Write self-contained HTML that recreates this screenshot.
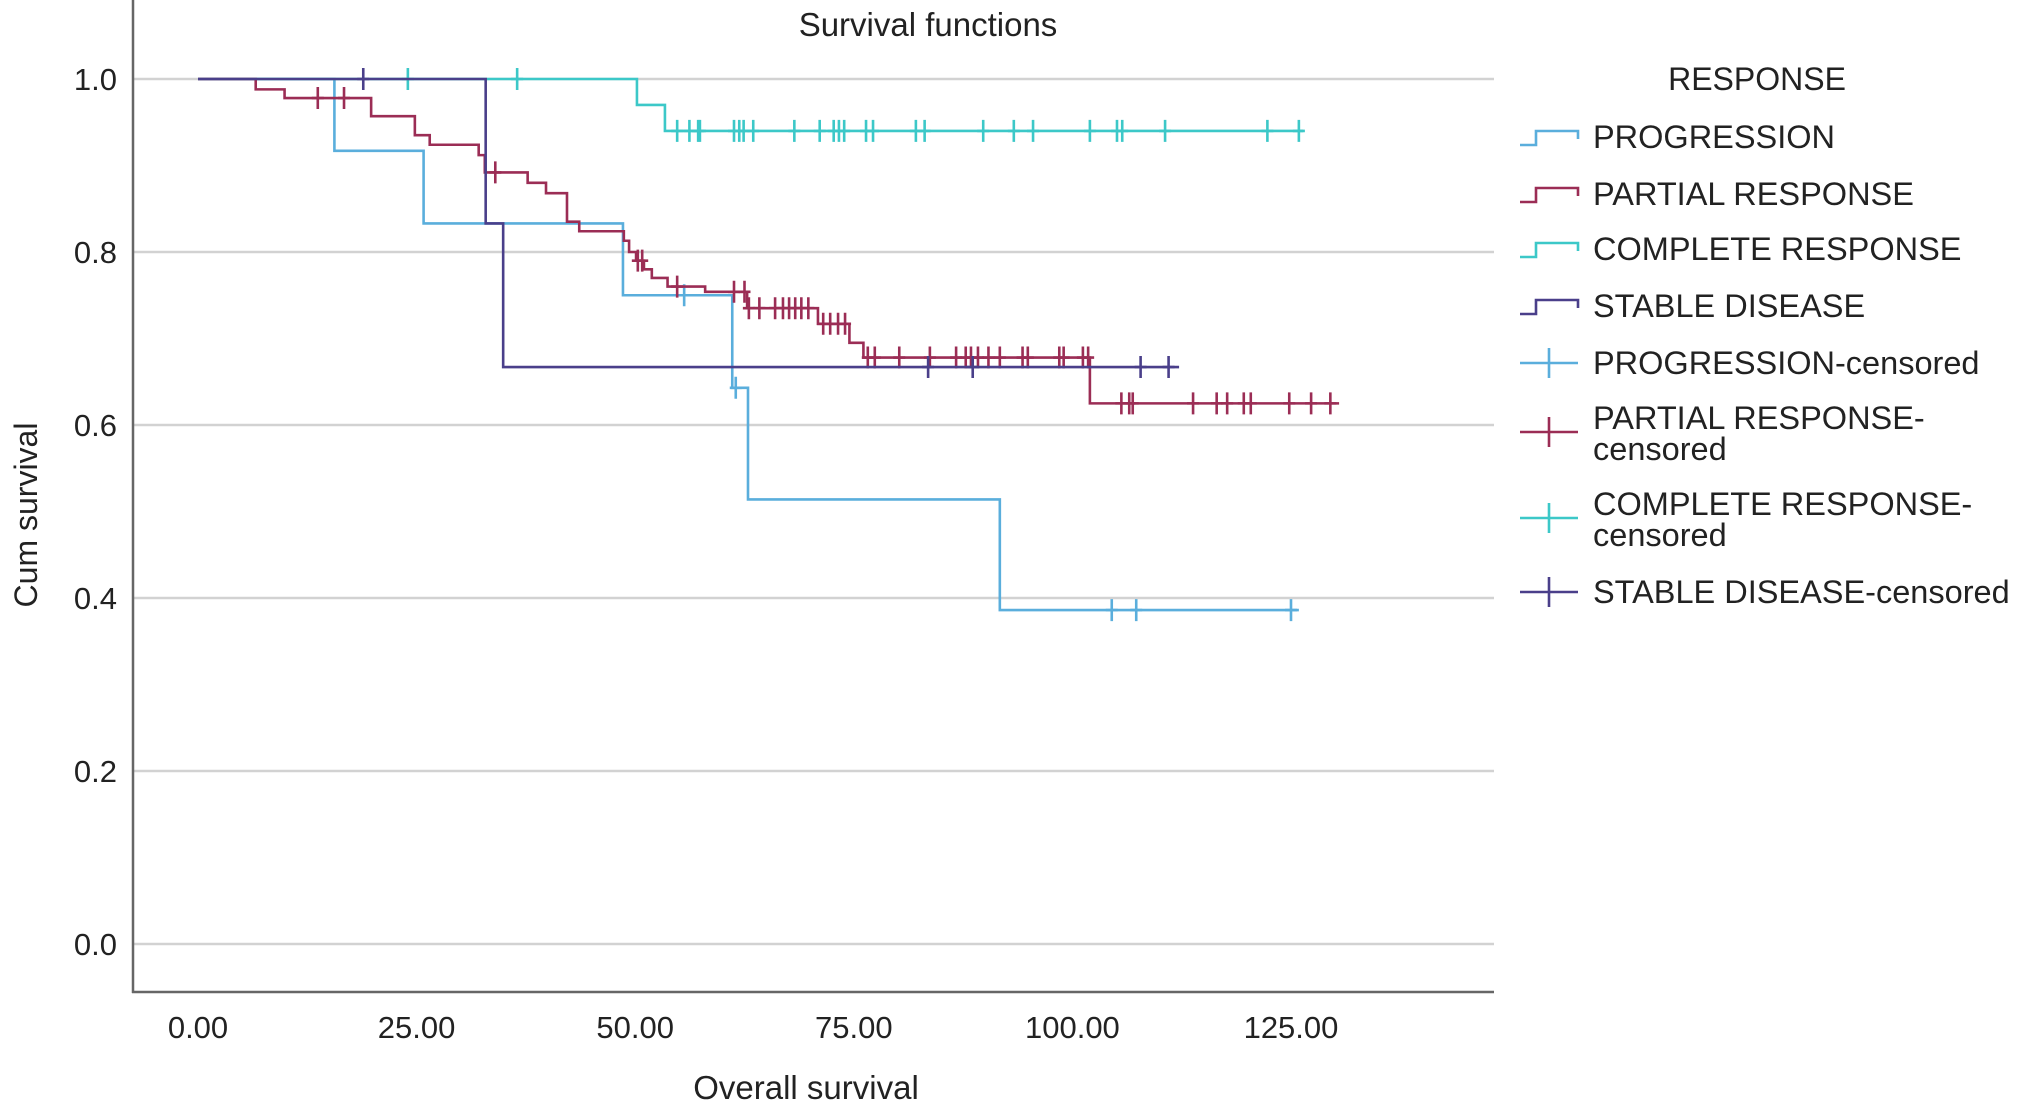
<!DOCTYPE html>
<html><head><meta charset="utf-8"><style>
body{margin:0;background:#fff;}
svg{display:block;font-family:"Liberation Sans",sans-serif;}
</style></head><body>
<svg id="chart" width="2032" height="1113" viewBox="0 0 2032 1113" xmlns="http://www.w3.org/2000/svg">
<rect width="2032" height="1113" fill="#fff"/>
<text x="928" y="36" font-size="33" text-anchor="middle" fill="#222">Survival functions</text>
<text transform="translate(37,515) rotate(-90)" font-size="32" text-anchor="middle" fill="#222">Cum survival</text>
<text x="806" y="1099" font-size="33" text-anchor="middle" fill="#222">Overall survival</text>
<g id="grid"></g><g id="series"></g><g id="axes"></g><g id="legend"></g>
</svg>
<script>
const xTicks=[0,25,50,75,100,125];
const xTickLabels=["0.00","25.00","50.00","75.00","100.00","125.00"];
const yTicks=[0,0.2,0.4,0.6,0.8,1.0];
const yTickLabels=["0.0","0.2","0.4","0.6","0.8","1.0"];
const seriesNames=["PROGRESSION","PARTIAL RESPONSE","COMPLETE RESPONSE","STABLE DISEASE"];
const progTimes=[15.6,25.8,48.6,61.1,62.9,91.7];
const progValues=[0.917,0.833,0.75,0.643,0.514,0.386];
const progEnd=125.9;
const progCensor=[55.6,61.5,104.5,107.3,125.0];
const partTimes=[6.6,9.9,19.8,24.8,26.5,32.1,32.8,37.7,39.8,42.2,43.6,48.7,49.3,50.1,51.0,51.9,53.7,58.0,62.8,70.9,74.5,76.1,102.0];
const partValues=[0.988,0.978,0.957,0.935,0.924,0.912,0.892,0.880,0.868,0.835,0.824,0.813,0.80,0.79,0.78,0.77,0.76,0.754,0.735,0.717,0.695,0.678,0.625];
const partEnd=130.5;
const partCensor=[13.7,16.7,34.0,50.3,50.8,54.8,61.3,62.5,63.0,64.2,66.0,66.9,67.6,68.3,69.0,69.8,71.5,72.3,73.2,74.0,76.6,77.4,80.2,83.7,86.7,87.8,88.4,89.2,90.4,91.7,94.3,94.9,98.5,99.0,101.2,101.8,105.6,106.5,106.9,113.8,116.5,117.7,119.6,120.4,124.8,127.3,129.5];
const compTimes=[50.2,53.4];
const compValues=[0.970,0.940];
const compEnd=126.4;
const compCensor=[24.0,36.5,54.8,56.2,57.2,57.4,61.3,61.9,62.4,63.5,68.2,71.1,72.7,73.3,73.9,76.4,77.2,82.1,83.1,89.8,93.3,95.5,102.0,105.1,105.7,110.6,122.3,125.9];
const stabTimes=[32.9,34.9];
const stabValues=[0.833,0.667];
const stabEnd=112.2;
const stabCensor=[18.9,83.5,88.6,107.8,111.0];

const colors=["#5aaedc","#9b2d55","#3cc8c8","#4a3f8a"];
const NS="http://www.w3.org/2000/svg";
const X=t=>198+t*218.6/25;
const Y=v=>944-v*865;
function mk(tag,attrs,parent){const e=document.createElementNS(NS,tag);for(const k in attrs)e.setAttribute(k,attrs[k]);parent.appendChild(e);return e;}
const grid=document.getElementById('grid'),axes=document.getElementById('axes'),ser=document.getElementById('series'),leg=document.getElementById('legend');
yTicks.forEach((v,i)=>{
 const l=mk('line',{x1:133,x2:1494,y1:Y(v),y2:Y(v),stroke:'#d2d2d2','stroke-width':2.5},grid);
 
 
 const t=mk('text',{x:117,y:Y(v)+11,'font-size':31,'text-anchor':'end',fill:'#222'},axes);
 t.textContent=yTickLabels[i];
 
 
});
xTicks.forEach((v,i)=>{
 const t=mk('text',{x:X(v),y:1038,'font-size':31,'text-anchor':'middle',fill:'#222'},axes);
 t.textContent=xTickLabels[i];
 
 
});
const ya=mk('line',{x1:133,x2:133,y1:0,y2:993,stroke:'#666','stroke-width':2.5},axes);


const xa=mk('line',{x1:132,x2:1494,y1:992,y2:992,stroke:'#666','stroke-width':2.5},axes);



function valAt(times,values,t){let v=1;for(let i=0;i<times.length;i++){if(times[i]<=t)v=values[i];}return v;}
const all=[[progTimes,progValues,progEnd,progCensor],[partTimes,partValues,partEnd,partCensor],[compTimes,compValues,compEnd,compCensor],[stabTimes,stabValues,stabEnd,stabCensor]];
const drawOrder=[0,2,1,3];
drawOrder.forEach(si=>{
 const [tm,vl,end,cen]=all[si];
 let d='M'+X(0)+','+Y(1);
 tm.forEach((t,i)=>{d+=' H'+X(t)+' V'+Y(vl[i]);});
 d+=' H'+X(end);
 const p=mk('path',{d:d,fill:'none',stroke:colors[si],'stroke-width':2.6},ser);
 
 
 cen.forEach(t=>{
  const v=valAt(tm,vl,t);
  const c=mk('path',{d:'M'+X(t)+','+(Y(v)-11)+' V'+(Y(v)+11)+' M'+(X(t)-6)+','+Y(v)+' H'+(X(t)+6),stroke:colors[si],'stroke-width':2.6,fill:'none'},ser);
  
  
 });
});
const lt=mk('text',{x:1757,y:90,'font-size':32,'text-anchor':'middle',fill:'#222'},leg);
lt.textContent='RESPONSE';


const legY=[137,194,249,306];
seriesNames.forEach((n,i)=>{
 const y=legY[i];
 const s=mk('path',{d:'M1520,'+(y+8)+' H1536 V'+(y-6)+' H1578 V'+(y+2),fill:'none',stroke:colors[i],'stroke-width':2.6},leg);
 
 
 const t=mk('text',{x:1593,y:y+11,'font-size':32.5,fill:'#222'},leg);
 t.textContent=n;
 
 
});
const cenLeg=[[363,["PROGRESSION-censored"]],[432,["PARTIAL RESPONSE-","censored"]],[518,["COMPLETE RESPONSE-","censored"]],[592,["STABLE DISEASE-censored"]]];
cenLeg.forEach(([y,lines],i)=>{
 const s=mk('path',{d:'M1520,'+y+' H1578 M1549,'+(y-15)+' V'+(y+15),fill:'none',stroke:colors[i],'stroke-width':2.6},leg);
 
 
 const t=mk('text',{x:1593,y:(lines.length>1?y-3:y+11),'font-size':32.5,fill:'#222'},leg);
 
 
 lines.forEach((ln,k)=>{const ts=mk('tspan',{x:1593,dy:k?31:0},t);ts.textContent=ln;});
});
</script>
</body></html>
